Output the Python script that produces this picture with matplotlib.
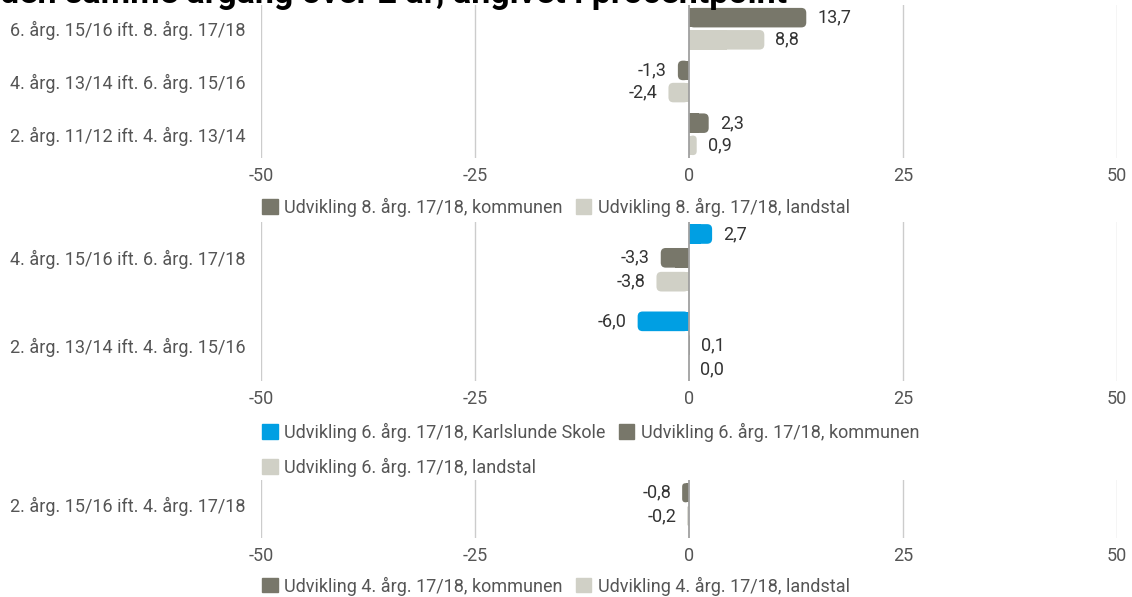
import matplotlib
matplotlib.use("Agg")
import matplotlib.pyplot as plt
from matplotlib.patches import Patch, FancyBboxPatch

plt.rcParams['font.family'] = ['Roboto', 'DejaVu Sans']

title = "den samme årgang over 2 år, angivet i procentpoint"

# Panel 1
cats1 = ["6. årg. 15/16 ift. 8. årg. 17/18", "4. årg. 13/14 ift. 6. årg. 15/16", "2. årg. 11/12 ift. 4. årg. 13/14"]
kom1 = [13.7, -1.3, 2.3]
land1 = [8.8, -2.4, 0.9]
names1 = ["Udvikling 8. årg. 17/18, kommunen", "Udvikling 8. årg. 17/18, landstal"]

# Panel 2
cats2 = ["4. årg. 15/16 ift. 6. årg. 17/18", "2. årg. 13/14 ift. 4. årg. 15/16"]
skole2 = [2.7, -6.0]
kom2 = [-3.3, 0.1]
land2 = [-3.8, 0.0]
names2 = ["Udvikling 6. årg. 17/18, Karlslunde Skole", "Udvikling 6. årg. 17/18, kommunen", "Udvikling 6. årg. 17/18, landstal"]

# Panel 3
cats3 = ["2. årg. 15/16 ift. 4. årg. 17/18"]
kom3 = [-0.8]
land3 = [-0.2]
names3 = ["Udvikling 4. årg. 17/18, kommunen", "Udvikling 4. årg. 17/18, landstal"]

xticks = [-50, -25, 0, 25, 50]

C_BLUE = "#009fe3"
C_DARK = "#78776a"
C_LIGHT = "#d0d0c6"
TXT = "#555555"
FS = 13

W, H = 1132, 597
fig = plt.figure(figsize=(W / 100, H / 100), dpi=100)
LEFT, RIGHT = 261, 1117


def ax_at(top, bottom):
    return fig.add_axes([LEFT / W, 1 - bottom / H, (RIGHT - LEFT) / W, (bottom - top) / H]), bottom - top


def fmt(v):
    return f"{v:.1f}".replace(".", ",")


def rounded_bar(ax, y, v, height, col, sx, sy):
    # sx, sy: pixels per data unit in x and y
    if v == 0:
        return
    w_px = abs(v) * sx
    h_px = height * sy
    r = min(5.0, w_px / 2, h_px / 2)
    x0 = min(0, v)
    fb = FancyBboxPatch((x0, y - height / 2), abs(v), height,
                        boxstyle=f"round,pad=0,rounding_size={r / sx}",
                        mutation_aspect=sx / sy, facecolor=col, edgecolor="none", zorder=2)
    ax.add_patch(fb)
    # square off the end at zero
    ax.barh(y, v / 2, height=height, color=col, lw=0, zorder=2)


def draw_panel(ax, hpx, cats, series, colors, offsets, height, ylim, legend_names, legend_y,
               legend_order, lblspace):
    ax.set_xlim(-50, 50)
    ax.set_ylim(*ylim)
    sx = (RIGHT - LEFT) / 100.0
    sy = hpx / abs(ylim[0] - ylim[1])
    for x in xticks:
        ax.axvline(x, color="#a0a0a0" if x == 0 else "#cccccc", lw=1.3 if x == 0 else 1.0,
                   zorder=3 if x == 0 else 0)
    for vals, col, off in zip(series, colors, offsets):
        for i, v in enumerate(vals):
            y = i + off
            rounded_bar(ax, y, v, height, col, sx, sy)
            if v >= 0:
                ax.annotate(fmt(v), (v, y), xytext=(8, 0), textcoords="offset points",
                            ha="left", va="center", fontsize=FS, color="#333333")
            else:
                ax.annotate(fmt(v), (v, y), xytext=(-8, 0), textcoords="offset points",
                            ha="right", va="center", fontsize=FS, color="#333333")
    ax.set_yticks(range(len(cats)))
    ax.set_yticklabels(cats, fontsize=FS, color=TXT)
    ax.set_xticks(xticks)
    ax.set_xticklabels([str(x) for x in xticks], fontsize=FS, color=TXT)
    ax.tick_params(axis="both", length=0)
    ax.tick_params(axis="y", pad=11)
    ax.tick_params(axis="x", pad=6.5)
    for s in ax.spines.values():
        s.set_visible(False)
    ax.grid(False)
    handles = [Patch(facecolor=c, edgecolor=c, lw=1, joinstyle="round", label=n)
               for c, n in zip(colors, legend_names)]
    handles = [handles[i] for i in legend_order]
    leg = ax.legend(handles=handles, loc="upper left", bbox_to_anchor=(0.0015, legend_y), ncol=2,
                    frameon=False, fontsize=FS, handlelength=0.85, handleheight=0.85, handletextpad=0.38,
                    columnspacing=0.72, labelspacing=lblspace, borderaxespad=0, borderpad=0)
    for t in leg.get_texts():
        t.set_color(TXT)


fig.text(0.0, 1 - 3 / H, title, fontsize=24.5, fontweight="bold", color="black",
         ha="left", va="baseline")

ax1, h1 = ax_at(5, 158)
draw_panel(ax1, h1, cats1, [kom1, land1], [C_DARK, C_LIGHT], [-0.21, 0.21], 0.37, (2.45, -0.45),
           names1, -0.258, [0, 1], 0.5)

ax2, h2 = ax_at(222, 381)
draw_panel(ax2, h2, cats2, [skole2, kom2, land2], [C_BLUE, C_DARK, C_LIGHT], [-0.273, 0, 0.273], 0.225,
           (1.41, -0.41), names2, -0.261, [0, 2, 1], 0.89)

ax3, h3 = ax_at(480, 538)
draw_panel(ax3, h3, cats3, [kom3, land3], [C_DARK, C_LIGHT], [-0.2, 0.2], 0.33, (0.58, -0.42),
           names3, -0.663, [0, 1], 0.5)

fig.savefig("out.png", dpi=100)
